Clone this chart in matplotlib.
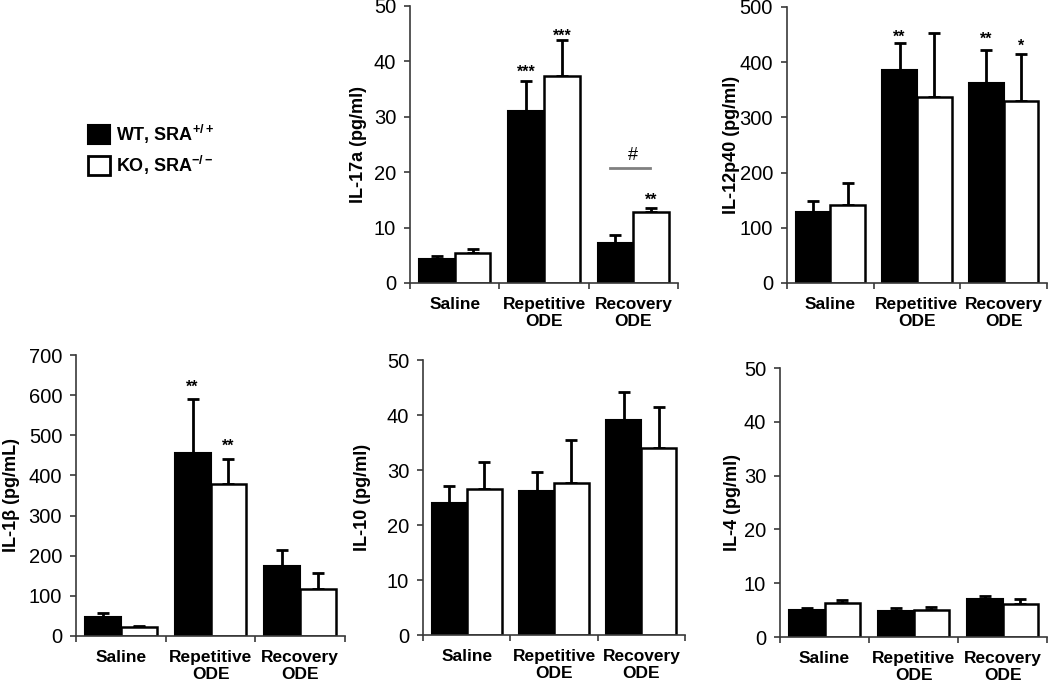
import matplotlib
matplotlib.use("Agg")
import matplotlib.pyplot as plt
import numpy as np
from matplotlib.patches import Patch

plt.rcParams["font.family"] = ["Liberation Sans", "DejaVu Sans"]
plt.rcParams["mathtext.fontset"] = "custom"
plt.rcParams["mathtext.rm"] = "Liberation Sans"
plt.rcParams["mathtext.bf"] = "Liberation Sans:bold"

categories = ["Saline", "Repetitive\nODE", "Recovery\nODE"]

il17a_wt = [4.3, 31.0, 7.3]
il17a_wt_err = [0.6, 5.5, 1.3]
il17a_ko = [5.5, 37.3, 12.8]
il17a_ko_err = [0.55, 6.5, 0.8]

il12_wt = [128, 385, 362]
il12_wt_err = [20, 49, 60]
il12_ko = [142, 337, 329]
il12_ko_err = [40, 116, 86]

il1b_wt = [48, 456, 175]
il1b_wt_err = [9, 134, 40]
il1b_ko = [22, 378, 117]
il1b_ko_err = [4, 64, 41]

il10_wt = [24.0, 26.1, 39.1]
il10_wt_err = [3.1, 3.5, 5.0]
il10_ko = [26.5, 27.6, 34.0]
il10_ko_err = [5.0, 7.9, 7.4]

il4_wt = [5.0, 4.8, 7.0]
il4_wt_err = [0.4, 0.6, 0.6]
il4_ko = [6.4, 5.0, 6.1]
il4_ko_err = [0.5, 0.6, 0.9]

# (category index, series 0=WT 1=KO, text, y of the star glyph)
il17a_stars = [(1, 0, "***", 38.8), (1, 1, "***", 45.4), (2, 1, "**", 15.7)]
il12_stars = [(1, 0, "**", 454), (2, 0, "**", 450), (2, 1, "*", 437)]
il1b_stars = [(1, 0, "**", 630), (1, 1, "**", 485)]

SPINE = "#3a3a3a"
W = 0.4


def draw_panel(rect, wt, wt_err, ko, ko_err, ymax, ystep, ylabel, label_dx, stars=()):
    ax = fig.add_axes(rect)
    x = np.arange(len(categories))
    ax.bar(x - W / 2, wt, W, color="black", edgecolor="black", linewidth=1.5, zorder=2)
    ax.bar(x + W / 2, ko, W, color="white", edgecolor="black", linewidth=1.8, zorder=2)
    for xs, v, e in ((x - W / 2, wt, wt_err), (x + W / 2, ko, ko_err)):
        ax.errorbar(xs, v, yerr=[np.zeros(len(e)), e], fmt="none", ecolor="black",
                    elinewidth=2, capsize=4, capthick=2, zorder=1)
    for i, s, txt, y in stars:
        xs = i - W / 2 if s == 0 else i + W / 2
        ax.annotate(txt, (xs, y), xytext=(0, -6.5), textcoords="offset points",
                    ha="center", va="baseline", fontsize=11.5, fontweight="bold")

    ax.set_xlim(-0.5, 2.5)
    ax.set_ylim(0, ymax)
    ax.set_yticks(np.arange(0, ymax + 1e-9, ystep))
    ax.set_xticks(x)
    ax.set_xticklabels(categories, fontweight="bold", fontsize=12.5, linespacing=1.2)
    ax.set_xticks([-0.5, 0.5, 1.5, 2.5], minor=True)
    ax.tick_params(axis="x", which="major", length=0, pad=10)
    ax.tick_params(axis="x", which="minor", length=4, width=1.2, color=SPINE, direction="out")
    ax.tick_params(axis="y", length=4, width=1.2, color=SPINE, labelsize=14.5, pad=6)
    for side in ("top", "right"):
        ax.spines[side].set_visible(False)
    for side in ("left", "bottom"):
        ax.spines[side].set_color(SPINE)
        ax.spines[side].set_linewidth(1.2)
    ax.set_ylabel(ylabel, fontweight="bold", fontsize=13)
    ax.yaxis.set_label_coords(label_dx, 0.5)
    return ax


fig = plt.figure(figsize=(10.5, 6.86), dpi=100)

ax17 = draw_panel([0.3905, 0.5875, 0.2552, 0.4038], il17a_wt, il17a_wt_err, il17a_ko,
                  il17a_ko_err, 50, 10, "IL-17a (pg/ml)", -0.16, il17a_stars)
ax17.plot([1.74, 2.19], [20.7, 20.7], color="#808080", lw=2)
ax17.text(1.99, 21.5, "#", ha="center", va="bottom", fontsize=13)

draw_panel([0.7495, 0.5875, 0.2476, 0.4023], il12_wt, il12_wt_err, il12_ko,
           il12_ko_err, 500, 100, "IL-12p40 (pg/ml)", -0.18, il12_stars)
draw_panel([0.0724, 0.0729, 0.2562, 0.4096], il1b_wt, il1b_wt_err, il1b_ko,
           il1b_ko_err, 700, 100, "IL-1β (pg/mL)", -0.21, il1b_stars)
draw_panel([0.4029, 0.0743, 0.2495, 0.4009], il10_wt, il10_wt_err, il10_ko,
           il10_ko_err, 50, 10, "IL-10 (pg/ml)", -0.20)
draw_panel([0.7429, 0.0714, 0.2543, 0.3921], il4_wt, il4_wt_err, il4_ko,
           il4_ko_err, 50, 10, "IL-4 (pg/ml)", -0.145)

handles = [Patch(facecolor="black", edgecolor="black", linewidth=1.5),
           Patch(facecolor="white", edgecolor="black", linewidth=2)]
labels = [r"WT, SRA$^{\mathbf{+/+}}$", r"KO, SRA$^{\mathbf{-/-}}$"]
fig.legend(handles, labels, loc="upper left", bbox_to_anchor=(0.068, 0.845),
           frameon=False, handlelength=1.25, handleheight=1.25, handletextpad=0.3,
           labelspacing=0.45, prop={"weight": "bold", "size": 13})

fig.savefig("out.png", dpi=100)
